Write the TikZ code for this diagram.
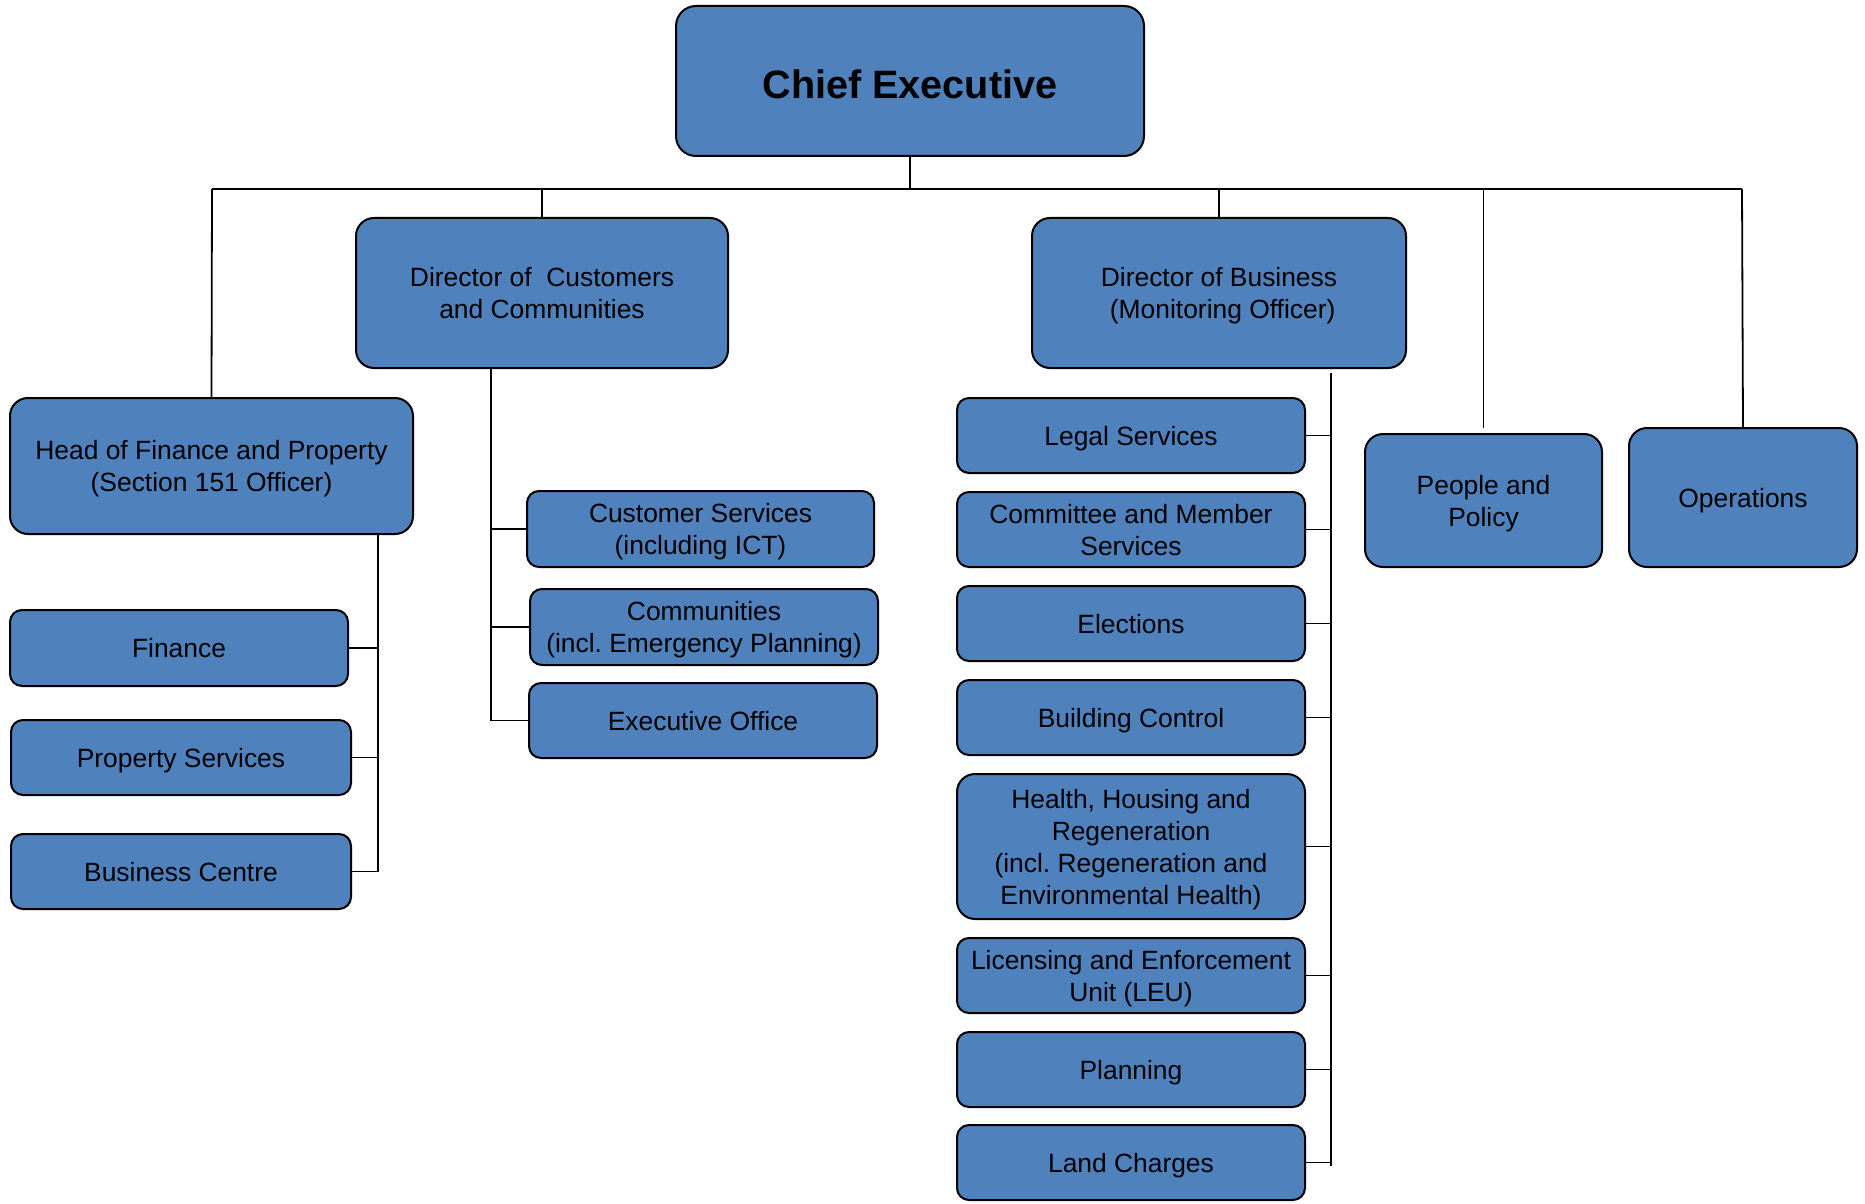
\documentclass[tikz,border=0pt]{standalone}
\usepackage{fontspec}
\setmainfont{Liberation Sans}
\definecolor{boxblue}{HTML}{4F81BD}
\newcommand\tshift{-1.6pt}
\newcommand\orgbox[7][]{\node[box,#1,minimum width={(#4-#2)*0.5pt},minimum height={(#5-#3)*0.5pt}] (#6) at ({(#2+#4)/2},{(#3+#5)/2}) {\raisebox{\tshift}[\height][\depth]{\begin{tabular}{@{}c@{}}#7\end{tabular}}}}
\begin{document}
\begin{tikzpicture}[x=0.5pt,y=-0.5pt,
  box/.style={draw=black,line width=1pt,fill=boxblue,rounded corners=6pt,align=center,inner sep=0pt,font=\fontsize{13.2}{16}\selectfont},
  big/.style={rounded corners=9pt},
  conn/.style={line width=0.9pt,black}]
\useasboundingbox (0,0) rectangle (1865,1204);
% top level
\orgbox[rounded corners=10pt,font=\fontsize{19.8}{24}\selectfont\bfseries,execute at begin node={\def\tshift{-3.8pt}}]{676}{6}{1144}{156}{ce}{Chief Executive};
\orgbox[big]{10}{398}{413}{534}{hf}{Head of Finance and Property\\(Section 151 Officer)};
\orgbox[big]{356}{218}{728}{368}{dcc}{Director of\ \ Customers\\and Communities};
\orgbox[big]{1032}{218}{1406}{368}{db}{Director of Business\\\ (Monitoring Officer)};
\orgbox[big]{1365}{434}{1602}{567}{pp}{People and\\Policy};
\orgbox[big]{1629}{428}{1857}{567}{ops}{Operations};
% finance children
\orgbox{10}{610}{348}{686}{fin}{Finance};
\orgbox{11}{720}{351}{795}{ps}{Property Services};
\orgbox{11}{834}{351}{909}{bc}{Business Centre};
% customers children
\orgbox{527}{491}{874}{567}{cs}{Customer Services\\(including ICT)};
\orgbox{530}{589}{878}{665}{com}{Communities\\(incl.\ Emergency Planning)};
\orgbox{529}{683}{877}{758}{eo}{Executive Office};
% business children
\orgbox{957}{398}{1305}{473}{leg}{Legal Services};
\orgbox{957}{492}{1305}{567}{cms}{Committee and Member\\Services};
\orgbox{957}{586}{1305}{661}{ele}{Elections};
\orgbox{957}{680}{1305}{755}{bct}{Building Control};
\orgbox[big]{957}{774}{1305}{919}{hhr}{Health, Housing and\\Regeneration\\(incl.\ Regeneration and\\Environmental Health)};
\orgbox{957}{938}{1305}{1013}{leu}{Licensing and Enforcement\\Unit (LEU)};
\orgbox{957}{1032}{1305}{1107}{pla}{Planning};
\orgbox{957}{1125}{1305}{1200}{lc}{Land Charges};
% bus
\coordinate (busL) at (212,189);
\coordinate (busR) at (1742,189);
\draw[conn] (busL) -- (busR);
\draw[conn] (ce.south) -- (ce.south |- busL);
\draw[conn] (busL) -- (hf.north);
\draw[conn] (dcc.north |- busL) -- (dcc.north);
\draw[conn] (db.north |- busL) -- (db.north);
\draw[conn] (pp.north |- busL) -- ([yshift=2.5pt]pp.north);
\draw[conn] (busR) -- (ops.north);
% finance tree
\coordinate (hfv) at (378,534);
\draw[conn] (hfv) -- (hfv |- bc.east) -- (bc.east);
\draw[conn] (fin.east) -- (fin.east -| hfv);
\draw[conn] (ps.east) -- (ps.east -| hfv);
% customers tree
\coordinate (dccv) at (491,368);
\draw[conn] (dccv) -- (dccv |- eo.west) -- (eo.west);
\draw[conn] (cs.west) -- (cs.west -| dccv);
\draw[conn] (com.west) -- (com.west -| dccv);
% business tree
\coordinate (dbv) at (1331,373);
\coordinate (dbe) at (1331,1166);
\draw[conn] (dbv) -- (dbe);
\foreach \n in {leg,cms,ele,bct,hhr,leu,pla,lc}
  \draw[conn] (\n.east) -- (\n.east -| dbv);
\end{tikzpicture}
\end{document}
